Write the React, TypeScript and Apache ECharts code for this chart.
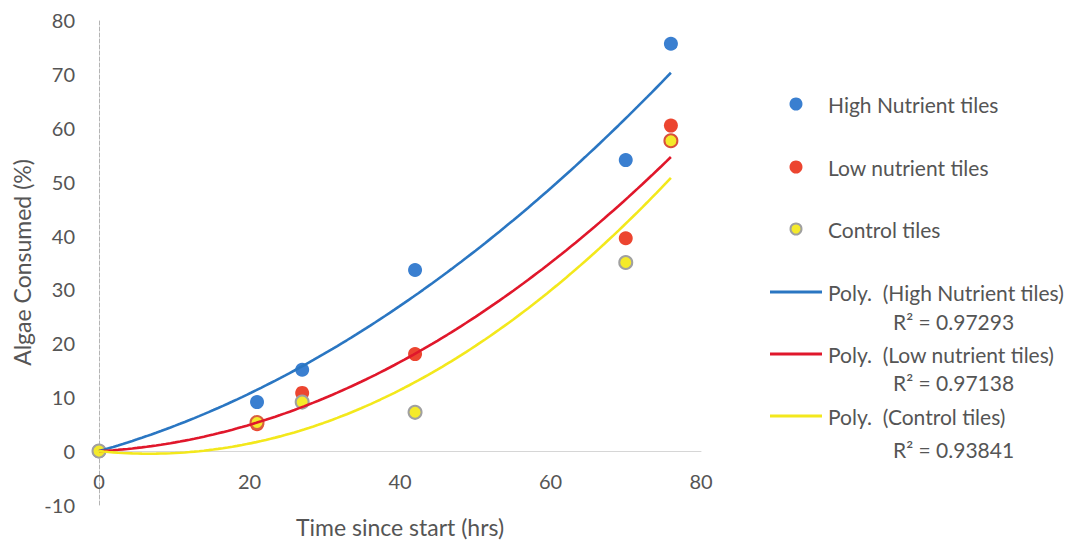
import React, { useEffect, useRef } from "react";
import * as echarts from "echarts";

// ---- data ----
const hours = [0, 21, 27, 42, 70, 76];
const highNutrient = [0, 9.1, 15.1, 33.6, 54.0, 75.6];
const lowNutrient = [0, 5.0, 10.8, 18.0, 39.5, 60.4];
const controlTiles = [0, 5.3, 9.1, 7.2, 35.0, 57.6];
const seriesNames = ["High Nutrient tiles", "Low nutrient tiles", "Control tiles"];
const trendNames = [
  "Poly.  (High Nutrient tiles)",
  "Poly.  (Low nutrient tiles)",
  "Poly.  (Control tiles)",
];
const rSquaredLabels = ["R\u00B2 = 0.97293", "R\u00B2 = 0.97138", "R\u00B2 = 0.93841"];
const xAxisTicks = { min: 0, max: 80, interval: 20 };
const yAxisTicks = { min: -10, max: 80, interval: 10 };
const xTitle = "Time since start (hrs)";
const yTitle = "Algae Consumed (%)";

// ---- styles ----
const FONT = "Lato, 'Open Sans', sans-serif";
const TEXT = "#555555";
const pointColors = ["#3a7fd0", "#ec4530", "#f4ea2a"];
const lineColors = ["#2a76c2", "#e0172b", "#f3e81c"];
const controlBorders = ["#a0a0a0", "#d9603f", "#a0a0a0", "#a0a0a0", "#a0a0a0", "#d9503a"];

const GRID = { left: 99, top: 20, width: 602, height: 485 };

// least squares order-2 polynomial through the origin (Excel trendline, intercept = 0)
function fitQuadraticZero(xs: number[], ys: number[]) {
  let s2 = 0, s3 = 0, s4 = 0, t1 = 0, t2 = 0;
  xs.forEach((x, i) => {
    const y = ys[i];
    s2 += x * x; s3 += x * x * x; s4 += x * x * x * x;
    t1 += x * y; t2 += x * x * y;
  });
  const det = s2 * s4 - s3 * s3;
  const b = (t1 * s4 - s3 * t2) / det;
  const c = (s2 * t2 - s3 * t1) / det;
  return [b, c];
}

function trendPoints(xs: number[], ys: number[]) {
  const [b, c] = fitQuadraticZero(xs, ys);
  const xMin = Math.min(...xs);
  const xMax = Math.max(...xs);
  const pts: number[][] = [];
  const steps = 120;
  for (let i = 0; i <= steps; i++) {
    const x = xMin + ((xMax - xMin) * i) / steps;
    pts.push([x, b * x + c * x * x]);
  }
  return pts;
}

export default function App() {
  const ref = useRef<HTMLDivElement>(null);

  useEffect(() => {
    if (!ref.current) return;
    const chart = echarts.init(ref.current, null, { renderer: "svg" });
    const allSeries = [highNutrient, lowNutrient, controlTiles];

    const scatterSeries = allSeries.map((vals, i) => ({
      name: seriesNames[i],
      type: "scatter",
      symbol: "circle",
      symbolSize: i === 2 ? 13 : 14,
      z: 3,
      itemStyle:
        i === 2
          ? { color: pointColors[2], borderColor: "#a0a0a0", borderWidth: 2, opacity: 1 }
          : { color: pointColors[i], opacity: 1 },
      data: hours.map((h, k) =>
        i === 2
          ? { value: [h, vals[k]], itemStyle: { borderColor: controlBorders[k] } }
          : [h, vals[k]]
      ),
    }));

    const trendSeries = allSeries.map((vals, i) => ({
      name: trendNames[i],
      type: "line",
      showSymbol: false,
      symbol: "none",
      z: 4,
      lineStyle: { color: lineColors[i], width: 2.6 },
      data: trendPoints(hours, vals),
    }));

    const legendY = [104, 167, 229];
    const trendY = [292, 354, 416];
    const r2Y = [321, 382, 449];
    const LEG_FONT = `21px ${FONT}`;
    const graphics: any[] = [];
    seriesNames.forEach((n, i) => {
      graphics.push({
        type: "circle",
        shape: { cx: 796, cy: legendY[i], r: i === 2 ? 5.5 : 6.5 },
        style:
          i === 2
            ? { fill: pointColors[2], stroke: "#a0a0a0", lineWidth: 2 }
            : { fill: pointColors[i] },
      });
      graphics.push({
        type: "text",
        x: 828,
        y: legendY[i],
        style: { text: n, fill: TEXT, font: LEG_FONT, verticalAlign: "middle" },
      });
    });
    trendNames.forEach((n, i) => {
      graphics.push({
        type: "line",
        shape: { x1: 770, y1: trendY[i], x2: 822, y2: trendY[i] },
        style: { stroke: lineColors[i], lineWidth: 3 },
      });
      graphics.push({
        type: "text",
        x: 828,
        y: trendY[i],
        style: { text: n, fill: TEXT, font: LEG_FONT, verticalAlign: "middle" },
      });
      graphics.push({
        type: "text",
        x: 893,
        y: r2Y[i],
        style: { text: rSquaredLabels[i], fill: TEXT, font: LEG_FONT, verticalAlign: "middle" },
      });
    });

    // distance from the grid bottom (y = min) up to the y = 0 line
    const zeroOffset =
      (GRID.height * (0 - yAxisTicks.min)) / (yAxisTicks.max - yAxisTicks.min);

    chart.setOption({
      animation: false,
      backgroundColor: "#ffffff",
      textStyle: { fontFamily: FONT },
      grid: { ...GRID, outerBoundsMode: "none" },
      xAxis: {
        type: "value",
        min: xAxisTicks.min,
        max: xAxisTicks.max,
        interval: xAxisTicks.interval,
        offset: -zeroOffset,
        name: xTitle,
        nameLocation: "middle",
        nameGap: 64,
        nameTextStyle: { color: TEXT, fontSize: 23, fontFamily: FONT },
        axisLine: { show: true, onZero: false, lineStyle: { color: "#d6d6d6", width: 1 } },
        axisTick: { show: false },
        splitLine: { show: false },
        axisLabel: { color: TEXT, fontSize: 20, fontFamily: FONT, margin: 20 },
      },
      yAxis: {
        type: "value",
        min: yAxisTicks.min,
        max: yAxisTicks.max,
        interval: yAxisTicks.interval,
        name: yTitle,
        nameLocation: "middle",
        nameRotate: 90,
        nameGap: 66,
        nameTextStyle: { color: TEXT, fontSize: 23, fontFamily: FONT },
        axisLine: {
          show: true,
          onZero: false,
          lineStyle: { color: "#b4b4b4", width: 1, type: "dashed" },
        },
        axisTick: { show: false },
        splitLine: { show: false },
        axisLabel: { color: TEXT, fontSize: 20, fontFamily: FONT, margin: 24 },
      },
      legend: { show: false },
      series: [...scatterSeries, ...trendSeries],
      graphic: graphics,
    });

    return () => {
      chart.dispose();
    };
  }, []);

  return (
    <div
      ref={ref}
      style={{ position: "fixed", left: 0, top: 0, width: 1086, height: 546, background: "#fff" }}
    />
  );
}
